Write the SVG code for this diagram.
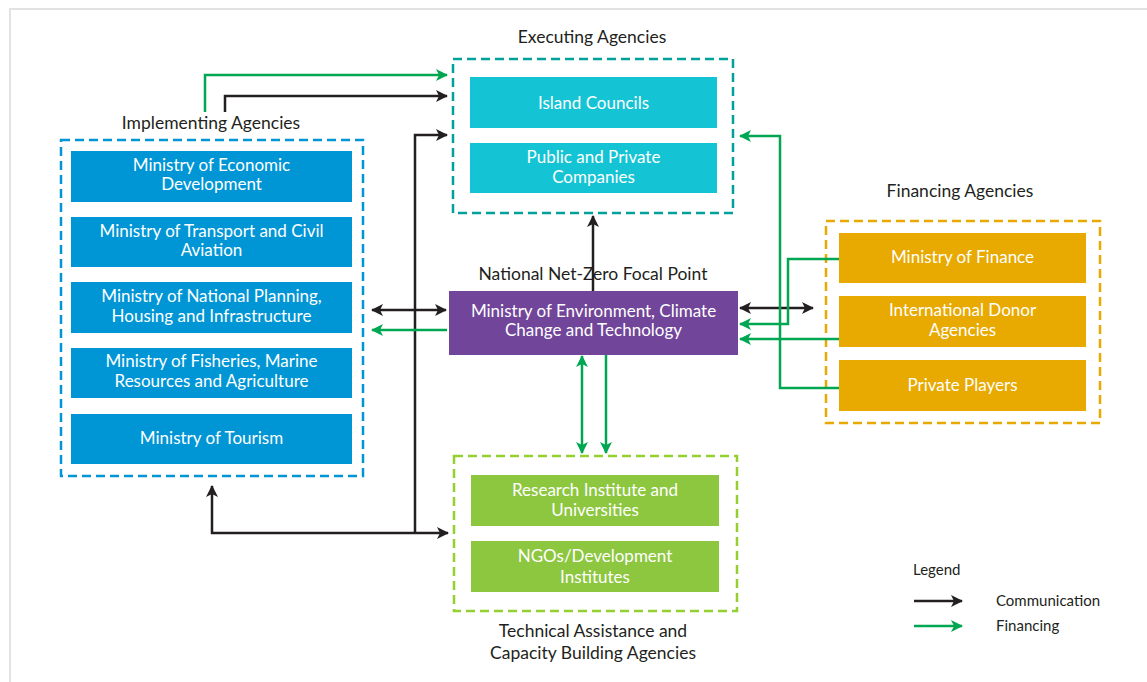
<svg xmlns="http://www.w3.org/2000/svg" width="1147" height="682" viewBox="0 0 1147 682">
<style>
.lbl{font-family:Lato,"Liberation Sans",sans-serif;font-size:17.5px;fill:#231f20;text-anchor:middle}
.bt{font-family:Lato,"Liberation Sans",sans-serif;font-size:17px;fill:#ffffff;text-anchor:middle}
.lg{font-family:Lato,"Liberation Sans",sans-serif;font-size:15px;fill:#231f20}
.dash{fill:none;stroke-width:2.5;stroke-dasharray:9,5}
.k{fill:none;stroke:#231f20;stroke-width:2.5}
.g{fill:none;stroke:#00a651;stroke-width:2.5}
</style>
<defs>
<marker id="ak" viewBox="0 0 12 12" refX="11" refY="6" markerWidth="12" markerHeight="12" markerUnits="userSpaceOnUse" orient="auto-start-reverse"><path d="M0,0 L12,6 L0,12 L3,6 Z" fill="#231f20"/></marker>
<marker id="ag" viewBox="0 0 12 12" refX="11" refY="6" markerWidth="12" markerHeight="12" markerUnits="userSpaceOnUse" orient="auto-start-reverse"><path d="M0,0 L12,6 L0,12 L3,6 Z" fill="#00a651"/></marker>
</defs>
<rect x="0" y="0" width="1147" height="682" fill="#ffffff"/>
<path d="M10,690 V9 H1150" fill="none" stroke="#e2e2e2" stroke-width="2"/>

<g id="implementing">
<text class="lbl" x="211" y="129">Implementing Agencies</text>
<rect class="dash" x="61" y="140" width="302" height="336" stroke="#0096d6"/>
<rect x="71" y="151" width="281" height="51" fill="#0096d6"/>
<text class="bt" x="211.5" y="171">Ministry of Economic</text>
<text class="bt" x="211.5" y="190">Development</text>
<rect x="71" y="217" width="281" height="50" fill="#0096d6"/>
<text class="bt" x="211.5" y="237">Ministry of Transport and Civil</text>
<text class="bt" x="211.5" y="256">Aviation</text>
<rect x="71" y="282" width="281" height="51" fill="#0096d6"/>
<text class="bt" x="211.5" y="302">Ministry of National Planning,</text>
<text class="bt" x="211.5" y="322">Housing and Infrastructure</text>
<rect x="71" y="348" width="281" height="50" fill="#0096d6"/>
<text class="bt" x="211.5" y="367">Ministry of Fisheries, Marine</text>
<text class="bt" x="211.5" y="387">Resources and Agriculture</text>
<rect x="71" y="414" width="281" height="50" fill="#0096d6"/>
<text class="bt" x="211.5" y="444">Ministry of Tourism</text>
</g>

<g id="executing">
<text class="lbl" x="592" y="43">Executing Agencies</text>
<rect class="dash" x="453" y="59" width="280" height="154" stroke="#00a19a"/>
<rect x="470" y="77" width="247" height="51" fill="#14c4d4"/>
<text class="bt" x="593.5" y="109">Island Councils</text>
<rect x="470" y="143" width="247" height="50" fill="#14c4d4"/>
<text class="bt" x="593.5" y="163">Public and Private</text>
<text class="bt" x="593.5" y="183">Companies</text>
</g>

<g id="focal">
<text class="lbl" x="593" y="280">National Net-Zero Focal Point</text>
<rect x="449" y="291" width="289" height="64" fill="#714599"/>
<text class="bt" x="593.5" y="317">Ministry of Environment, Climate</text>
<text class="bt" x="593.5" y="336">Change and Technology</text>
</g>

<g id="financing">
<text class="lbl" x="960" y="197">Financing Agencies</text>
<rect class="dash" x="826" y="221" width="274" height="202" stroke="#e8a900"/>
<rect x="839" y="233" width="247" height="50" fill="#e8a900"/>
<text class="bt" x="962.5" y="263">Ministry of Finance</text>
<rect x="839" y="296" width="247" height="51" fill="#e8a900"/>
<text class="bt" x="962.5" y="316">International Donor</text>
<text class="bt" x="962.5" y="336">Agencies</text>
<rect x="839" y="360" width="247" height="51" fill="#e8a900"/>
<text class="bt" x="962.5" y="391">Private Players</text>
</g>

<g id="technical">
<rect class="dash" x="454" y="456" width="283" height="155" stroke="#94d02f"/>
<rect x="471" y="475" width="248" height="51" fill="#8dc63f"/>
<text class="bt" x="595" y="496">Research Institute and</text>
<text class="bt" x="595" y="516">Universities</text>
<rect x="471" y="541" width="248" height="51" fill="#8dc63f"/>
<text class="bt" x="595" y="562">NGOs/Development</text>
<text class="bt" x="595" y="583">Institutes</text>
<text class="lbl" x="593" y="637">Technical Assistance and</text>
<text class="lbl" x="593" y="659">Capacity Building Agencies</text>
</g>

<g id="connectors">
<path class="g" d="M205,112 V75 H447" marker-end="url(#ag)"/>
<path class="k" d="M225,112 V96 H447" marker-end="url(#ak)"/>
<path class="k" d="M415,533 V135 H447" marker-end="url(#ak)"/>
<path class="k" d="M212,486 V533 H448" marker-start="url(#ak)" marker-end="url(#ak)"/>
<path class="k" d="M593,291 V216" marker-end="url(#ak)"/>
<path class="k" d="M372,310 H446" marker-start="url(#ak)" marker-end="url(#ak)"/>
<path class="g" d="M447,330 H372" marker-end="url(#ag)"/>
<path class="k" d="M740,308 H813" marker-start="url(#ak)" marker-end="url(#ak)"/>
<path class="g" d="M839,259 H788 V324 H740" marker-end="url(#ag)"/>
<path class="g" d="M839,339 H740" marker-end="url(#ag)"/>
<path class="g" d="M839,388 H780 V136 H740" marker-end="url(#ag)"/>
<path class="g" d="M582,356 V453" marker-start="url(#ag)" marker-end="url(#ag)"/>
<path class="g" d="M606,355 V453" marker-end="url(#ag)"/>
</g>

<g id="legend">
<text class="lg" x="913" y="575">Legend</text>
<path class="k" d="M914,601 H962" marker-end="url(#ak)"/>
<text class="lg" x="996" y="606">Communication</text>
<path class="g" d="M914,626 H962" marker-end="url(#ag)"/>
<text class="lg" x="996" y="631">Financing</text>
</g>
</svg>
